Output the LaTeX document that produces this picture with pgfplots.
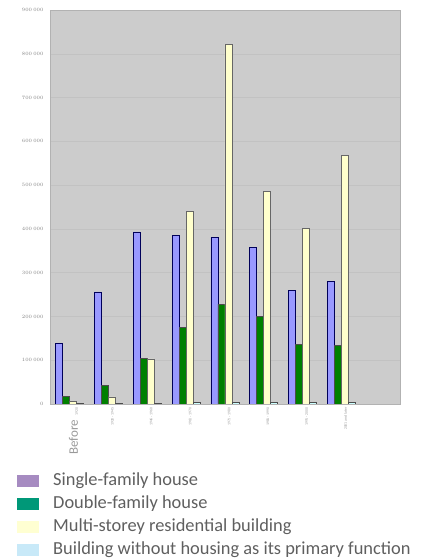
\documentclass[border=0pt]{standalone}
\usepackage{pgfplots}
\pgfplotsset{compat=1.18}
\usepackage{fontspec}
\setmainfont{Carlito}
\definecolor{bgray}{HTML}{CCCCCC}
\definecolor{gridc}{HTML}{C2C2C2}
\definecolor{sfh}{HTML}{9999FF}
\definecolor{dfh}{HTML}{008000}
\definecolor{msr}{HTML}{FFFFCC}
\definecolor{bwh}{HTML}{CCFFFF}
\definecolor{lsfh}{HTML}{A68BC1}
\definecolor{ldfh}{HTML}{009878}
\definecolor{lmsr}{HTML}{FFFFD2}
\definecolor{lbwh}{HTML}{C8E9F8}
\definecolor{txt}{HTML}{5F5F5F}
\pgfplotstableread{
x sfh dfh msr bwh
0 139000 18000 6000 1000
1 256000 43000 16000 1000
2 393000 105000 103000 2000
3 386000 174000 439000 3000
4 381000 228000 822000 4000
5 357000 201000 486000 3000
6 260000 137000 402000 3000
7 279000 133000 568000 3000
}\data
\begin{document}
\begin{tikzpicture}
\path[use as bounding box] (0,0) rectangle (436bp,559bp);
\begin{axis}[
  at={(50bp,155bp)}, anchor=south west,
  scale only axis, width=350bp, height=394bp,
  ybar, bar width=7bp,
  xmin=-0.5, xmax=8.5, ymin=0, ymax=900000,
  axis background/.style={fill=bgray},
  axis line style={draw=gray!60},
  ytick={0,100000,...,900000},
  scaled y ticks=false,
  /pgf/number format/fixed,
  /pgf/number format/1000 sep={\,},
  yticklabel style={font=\fontsize{4.5bp}{5bp}\selectfont, text=gray, xshift=-3bp},
  major tick length=0pt,
  ymajorgrids, grid style={draw=gridc, line width=0.4pt},
  xtick={0,...,7},
  xticklabels={{{\fontsize{13bp}{13bp}\selectfont Before}\hspace{4bp} 1920},{1920 - 1945},{1946 - 1960},{1961 - 1970},{1971 - 1980},{1981 - 1990},{1991 - 2000},{2001 and later}},
  xticklabel style={rotate=90, anchor=east, font=\fontsize{3.8bp}{4bp}\selectfont, text=gray!80, yshift=-4bp},
  legend cell align=left,
  legend style={at={(-36bp,-66bp)}, anchor=north west, draw=none, fill=none,
    font=\fontsize{18.4bp}{20bp}\selectfont, text=txt,
    nodes={inner xsep=0pt, inner ysep=0pt, text height=13bp, text depth=4bp},
    column sep=14bp, row sep=6.2bp},
  legend image code/.code={\fill[#1, draw=none] (0bp,-6bp) rectangle (22bp,6bp);},
]
\addlegendimage{fill=lsfh, draw=none}
\addlegendentry{Single-family house}
\addlegendimage{fill=ldfh, draw=none}
\addlegendentry{Double-family house}
\addlegendimage{fill=lmsr, draw=none}
\addlegendentry{Multi-storey residential building}
\addlegendimage{fill=lbwh, draw=none}
\addlegendentry{Building without housing as its primary function}
\addplot[fill=sfh, draw=black!65!blue, line width=0.8pt, bar shift=-10.5bp, forget plot] table[x=x,y=sfh]{\data};
\addplot[fill=dfh, draw=black!70, line width=0.8pt, bar shift=-3.5bp, forget plot] table[x=x,y=dfh]{\data};
\addplot[fill=msr, draw=black!60, line width=0.8pt, bar shift=3.5bp, forget plot] table[x=x,y=msr]{\data};
\addplot[fill=bwh, draw=black!70, line width=0.8pt, bar shift=10.5bp, forget plot] table[x=x,y=bwh]{\data};
\end{axis}
\end{tikzpicture}
\end{document}
